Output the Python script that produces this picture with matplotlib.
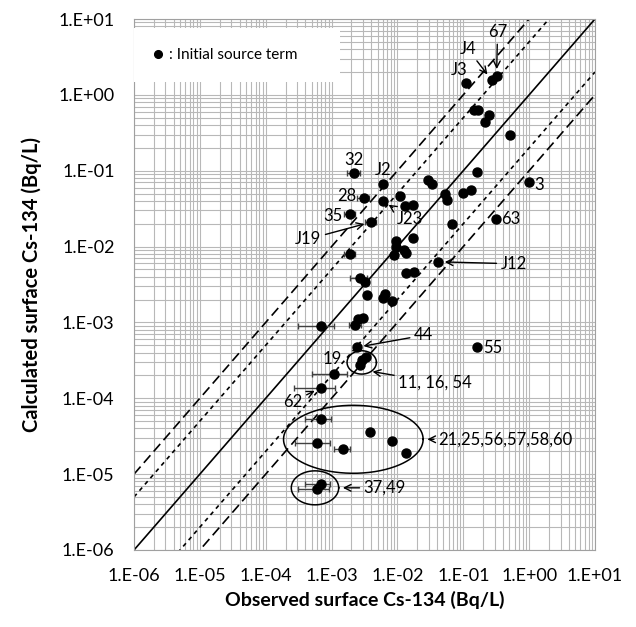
import numpy as np
import matplotlib
matplotlib.use("Agg")
import matplotlib.pyplot as plt
from matplotlib.ticker import FixedLocator, LogLocator, FuncFormatter, NullFormatter

plt.rcParams['font.family'] = ['Lato', 'DejaVu Sans']

# observed vs calculated surface Cs-134 (Bq/L)
obs = [0.11, 0.27, 0.32, 0.145, 0.17, 0.25, 0.21, 0.51, 0.16, 1.0,
       0.029, 0.034, 0.098, 0.13, 0.053, 0.056, 0.011, 0.006, 0.0022, 0.0031,
       0.006, 0.013, 0.017, 0.0019, 0.004, 0.31, 0.067, 0.017, 0.0094, 0.0094,
       0.0126, 0.0135, 0.0089, 0.0019, 0.041, 0.0136, 0.018, 0.0027, 0.0032, 0.0034,
       0.0065, 0.006, 0.0082, 0.0025, 0.003, 0.0023, 0.00069, 0.0024, 0.0033, 0.0029,
       0.0027, 0.16, 0.0011, 0.00069, 0.00069, 0.00061, 0.0015, 0.0038, 0.0082, 0.0135,
       0.00068, 0.00061]
calc = [1.45, 1.57, 1.77, 0.64, 0.64, 0.54, 0.44, 0.30, 0.095, 0.072,
        0.075, 0.067, 0.051, 0.055, 0.049, 0.041, 0.047, 0.066, 0.092, 0.044,
        0.040, 0.034, 0.035, 0.027, 0.021, 0.023, 0.020, 0.013, 0.012, 0.010,
        0.0090, 0.0083, 0.0078, 0.0079, 0.0063, 0.0045, 0.0046, 0.0038, 0.0034, 0.0023,
        0.0024, 0.0021, 0.0019, 0.0011, 0.00114, 0.00093, 0.0009, 0.00047, 0.00035, 0.00032,
        0.000275, 0.00047, 0.00021, 0.000138, 5.3e-5, 2.55e-5, 2.16e-5, 3.6e-5, 2.7e-5, 1.9e-5,
        7.4e-6, 6.3e-6]
# horizontal uncertainty of the observation (Bq/L), 0 = no bar
xerr = [0, 0, 0, 0, 0, 0, 0, 0, 0, 0,
        0, 0, 0, 0, 0, 0, 0, 0, 0.00047, 0.00065,
        0, 0, 0, 0.00038, 0.0008, 0, 0, 0, 0, 0,
        0, 0, 0, 0.00038, 0, 0, 0, 0.0008, 0, 0,
        0, 0, 0, 0, 0, 0.00045, 0.00038, 0, 0, 0,
        0, 0, 0.0006, 0.00042, 0.0003, 0.00033, 0.0004, 0, 0, 0,
        0.00028, 0.0003]

# axis decades
decades = [1e-6, 1e-5, 1e-4, 1e-3, 1e-2, 1e-1, 1e0, 1e1]

# point labels: index into the arrays, text
pt_idx = [0, 1, 2, 9, 17, 18, 19, 20, 23, 24, 25, 34, 47, 51, 53]
pt_txt = ["J3", "J4", "67", "3", "J2", "32", "28", "J23", "35", "J19", "63", "J12", "44", "55", "62"]
# label offset in pixels (right, down) and whether an arrow is drawn
pt_off = [(-7, -13), (-24, -31), (1, -44), (10, 3), (0, -14), (0, -13), (-17, -2), (27, 18),
          (-17, 2), (-63, 17), (15, 0), (76, 2), (67, -12), (16, 1), (-28, 14)]
pt_arrow = [False, True, True, False, False, False, False, True,
            False, True, False, True, True, False, True]

# grouped points: ellipse centre (Bq/L), half axes (decades), label
grp_cx = [0.00214, 0.00056, 0.00287]
grp_cy = [2.88e-5, 6.6e-6, 0.000297]
grp_a = [1.06, 0.36, 0.223]
grp_b = [0.448, 0.224, 0.154]
grp_txt = ["21,25,56,57,58,60", "37,49", "11, 16, 54"]

ratio_lines = [1, 10, 0.1, 5, 0.2]
ratio_styles = ['-', (0, (6, 3)), (0, (6, 3)), (0, (2.5, 2.5)), (0, (2.5, 2.5))]

fig = plt.figure(figsize=(6.36, 6.27), dpi=100)
ax = fig.add_axes([134 / 636, 1 - 550 / 627, 461 / 636, 531 / 627])
ax.set_xscale('log')
ax.set_yscale('log')
ax.set_xlim(decades[0], decades[-1])
ax.set_ylim(decades[0], decades[-1])

fmt = FuncFormatter(lambda v, p: f"1.E{int(round(np.log10(v))):+03d}")
for axis in (ax.xaxis, ax.yaxis):
    axis.set_major_locator(FixedLocator(decades))
    axis.set_minor_locator(LogLocator(base=10, subs=np.arange(2, 10), numticks=20))
    axis.set_major_formatter(fmt)
    axis.set_minor_formatter(NullFormatter())
ax.grid(which='both', color='#b8b8b8', lw=0.8)
ax.set_axisbelow(True)
for s in ax.spines.values():
    s.set_color('#a0a0a0')
ax.tick_params(which='both', length=0)
ax.tick_params(axis='x', pad=13, labelsize=13)
ax.tick_params(axis='y', pad=14, labelsize=13)

xs = np.array([decades[0], decades[-1]])
for r, ls in zip(ratio_lines, ratio_styles):
    ax.plot(xs, xs * r, color='k', lw=1.2, linestyle=ls, zorder=2)

obs_a = np.array(obs)
calc_a = np.array(calc)
xerr_a = np.array(xerr)
m = xerr_a > 0
ax.errorbar(obs_a[m], calc_a[m], xerr=xerr_a[m], fmt='none', ecolor='#404040',
            elinewidth=1, capsize=2.5, zorder=3)
ax.plot(obs_a, calc_a, 'o', color='k', ms=6.5, zorder=4, label=': Initial source term')

px = 0.72  # points per pixel
for i, t, (dx, dy), arr in zip(pt_idx, pt_txt, pt_off, pt_arrow):
    ax.annotate(t, xy=(obs[i], calc[i]), xytext=(dx * px, -dy * px), textcoords='offset points',
                ha='center', va='center', fontsize=12,
                arrowprops=dict(arrowstyle='->', lw=1, color='k', shrinkA=1, shrinkB=5) if arr else None)

th = np.linspace(0, 2 * np.pi, 300)
for cx, cy, a, b in zip(grp_cx, grp_cy, grp_a, grp_b):
    ax.plot(cx * 10 ** (a * np.cos(th)), cy * 10 ** (b * np.sin(th)), color='k', lw=1.1, zorder=3)

# big group and 37,49: arrow to right edge of ellipse
for k, gap in ((0, 15), (1, 25)):
    ax.annotate(grp_txt[k], xy=(grp_cx[k] * 10 ** grp_a[k], grp_cy[k]), xytext=(gap * px, 0),
                textcoords='offset points', ha='left', va='center', fontsize=12,
                arrowprops=dict(arrowstyle='->', lw=1, color='k', shrinkA=1, shrinkB=3))
# 11,16,54: arrow to lower right edge
ang = np.deg2rad(-50)
edge = (grp_cx[2] * 10 ** (grp_a[2] * np.cos(ang)), grp_cy[2] * 10 ** (grp_b[2] * np.sin(ang)))
ax.annotate(grp_txt[2], xy=edge, xytext=(64 * px, -11 * px), textcoords='offset points',
            ha='center', va='center', fontsize=12,
            arrowprops=dict(arrowstyle='->', lw=1, color='k', shrinkA=1, shrinkB=1))
ax.annotate("19", xy=(grp_cx[2], grp_cy[2]), xytext=(-30 * px, 3 * px), textcoords='offset points',
            ha='center', va='center', fontsize=12)

leg = ax.legend(loc='upper left', bbox_to_anchor=(0, 1 - 9 / 531, 206 / 461, 0), mode='expand',
                frameon=True, fancybox=False, framealpha=1, facecolor='white', edgecolor='none',
                borderaxespad=0, borderpad=1.3, handlelength=0.6, handletextpad=0.4,
                fontsize=11, markerscale=0.85)

ax.set_xlabel('Observed surface Cs-134 (Bq/L)', fontsize=14, fontweight='bold', labelpad=5)
ax.set_ylabel('Calculated surface Cs-134 (Bq/L)', fontsize=14.5, fontweight='bold', labelpad=12)

fig.savefig('out.png', dpi=100)
